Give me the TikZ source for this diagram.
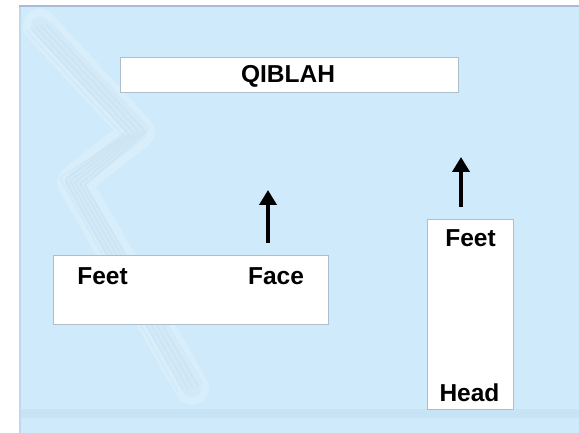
\documentclass[tikz,border=0pt]{standalone}
\usepackage{fontspec}
\setmainfont{Liberation Sans}
\usetikzlibrary{arrows.meta}
\definecolor{bgblue}{RGB}{206,234,251}
\definecolor{edgeblue}{RGB}{170,186,214}
\definecolor{bandblue}{RGB}{199,228,247}
\definecolor{boxedge}{RGB}{176,190,204}
\definecolor{patblue}{RGB}{150,180,210}
\tikzset{
  x=1pt, y=-1pt,
  whitebox/.style={draw=boxedge, line width=1pt, fill=white, inner sep=0pt, outer sep=0pt},
  lbl/.style={font=\fontsize{24.5}{28}\selectfont\bfseries, inner sep=0pt, anchor=base},
  uparrow/.style={line width=4pt, -{Triangle[width=17pt,length=15pt]}},
  pat/.style={line width=1.2pt, line join=round, opacity=0.10}
}
\begin{document}
\begin{tikzpicture}
\useasboundingbox (0,0) rectangle (579,433);
\fill[white] (0,0) rectangle (579,433);
\fill[bgblue] (19,5) rectangle (579,433);
\fill[bandblue] (19,409) rectangle (579,418);
\fill[edgeblue] (19,5) rectangle (579,7);
\fill[edgeblue!40!bgblue] (19,7) rectangle (21,433);
% faint woven background decoration
\draw[line width=34pt, white, opacity=0.22, line join=round, line cap=round]
  (40,26) -- (138,132) -- (74,182) -- (192,388);
\draw[line width=18pt, patblue, opacity=0.08, line join=round, line cap=round]
  (40,26) -- (138,132) -- (74,182) -- (192,388);
\foreach \d in {-14,-9,...,14} {
  \draw[pat, draw=patblue] ([shift={(\d,-\d*0.3)}]40,26) -- ([shift={(\d,-\d*0.3)}]138,132) -- ([shift={(\d,\d*0.3)}]74,182) -- ([shift={(\d,-\d*0.3)}]192,388);
}
% boxes
\node[whitebox, minimum width=338pt, minimum height=35pt] (qbox) at (289.5,75.5) {};
\node[lbl] (qiblah) at (288,83) {QIBLAH};
\node[whitebox, minimum width=275pt, minimum height=68pt] (lbox) at (190.5,290) {};
\node[lbl] (lfeet) at (102.5,284) {Feet};
\node[lbl] (lface) at (276,284) {Face};
\node[whitebox, minimum width=86pt, minimum height=189pt] (rbox) at (470,314.5) {};
\node[lbl] (rfeet) at (470.5,247) {Feet};
\node[lbl] (rhead) at (469.5,401) {Head};
% arrows
\coordinate (la0) at (268,243);
\coordinate (la1) at (268,190);
\coordinate (ra0) at (461,207);
\coordinate (ra1) at (461,157);
\draw[uparrow] (la0) -- (la1);
\draw[uparrow] (ra0) -- (ra1);
\end{tikzpicture}
\end{document}
